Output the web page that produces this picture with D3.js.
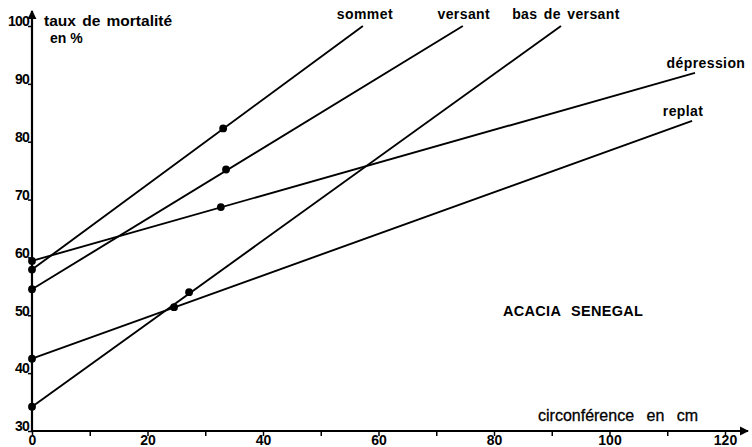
<!DOCTYPE html>
<html>
<head>
<meta charset="utf-8">
<script src="https://cdn.jsdelivr.net/npm/d3@7"></script>
<style>
  html, body { margin: 0; padding: 0; background: #fff; }
  svg { display: block; }
  text { font-family: "Liberation Sans", Arial, Helvetica, sans-serif; fill: #000; }
</style>
</head>
<body>
<svg id="chart" width="752" height="447"></svg>
<script>
// Mortality rate (%) against trunk circumference (cm) by topographic position
const seriesNames = ["sommet", "versant", "bas de versant", "dépression", "replat"];

// fitted lines: value at circumference 0 and where each line stops
const xStart = [0, 0, 0, 0, 0];
const yStart = [57.9, 54.5, 34.2, 59.4, 42.5];
const xEnd   = [57.3, 74.6, 91.6, 114.8, 114.3];
const yEnd   = [100, 100, 100, 91.9, 83.6];

// observed point along each line
const xObs = [33.1, 33.6, 27.2, 32.7, 24.6];
const yObs = [82.3, 75.2, 54.0, 68.7, 51.4];

const xTicks = [0, 10, 20, 30, 40, 50, 60, 70, 80, 90, 100, 110, 120];
const xTickLabels = ["0", "", "20", "", "40", "", "60", "", "80", "", "100", "", "120"];
const yTicks = [30, 40, 50, 60, 70, 80, 90, 100];
const yTickLabels = ["30", "40", "50", "60", "70", "80", "90", "100"];

const svg = d3.select("#chart");

const x = d3.scaleLinear().domain([0, 120]).range([32, 725]);
const y = d3.scaleLinear().domain([30, 100]).range([431, 26]);

// arrow head for the axes
const defs = svg.append("defs");
defs.append("marker")
  .attr("id", "arrow")
  .attr("viewBox", "0 0 10 10")
  .attr("refX", 9).attr("refY", 5)
  .attr("markerWidth", 4.2).attr("markerHeight", 4.2)
  .attr("markerUnits", "strokeWidth")
  .attr("orient", "auto")
  .append("path")
  .attr("d", "M0,0 L10,5 L0,10 Z")
  .attr("fill", "#000");

// x axis
const xAxis = d3.axisBottom(x)
  .tickValues(xTicks)
  .tickSize(5)
  .tickFormat((d, i) => xTickLabels[i]);
const gx = svg.append("g").attr("transform", `translate(0,${y(30)})`).call(xAxis);
gx.select(".domain").remove();
gx.selectAll(".tick line").attr("stroke", "#000").attr("stroke-width", 1.5);
gx.selectAll(".tick text")
  .attr("y", 14)
  .attr("dy", 0)
  .style("font-size", "14px")
  .style("font-weight", "bold");
svg.append("line")
  .attr("x1", x(0)).attr("x2", 748)
  .attr("y1", y(30)).attr("y2", y(30))
  .attr("stroke", "#000").attr("stroke-width", 2.2)
  .attr("marker-end", "url(#arrow)");

// y axis
const yAxis = d3.axisLeft(y)
  .tickValues(yTicks)
  .tickSize(4)
  .tickFormat((d, i) => yTickLabels[i]);
const gy = svg.append("g").attr("transform", `translate(${x(0)},0)`).call(yAxis);
gy.select(".domain").remove();
gy.selectAll(".tick line").attr("stroke", "#000").attr("stroke-width", 1.5);
gy.selectAll(".tick text")
  .attr("x", -3)
  .attr("dy", "-0.02em")
  .style("font-size", "14px")
  .style("font-weight", "bold")
  .style("letter-spacing", "-0.8px");
svg.append("line")
  .attr("x1", x(0)).attr("x2", x(0))
  .attr("y1", y(30)).attr("y2", 11)
  .attr("stroke", "#000").attr("stroke-width", 2.2)
  .attr("marker-end", "url(#arrow)");

// axis titles
svg.append("text")
  .attr("x", 44).attr("y", 26)
  .style("font-size", "15.5px").style("font-weight", "bold")
  .style("word-spacing", "2px")
  .text("taux de mortalité");
svg.append("text")
  .attr("x", 50).attr("y", 43)
  .style("font-size", "14px").style("font-weight", "bold")
  .text("en %");
svg.append("text")
  .attr("x", 538).attr("y", 421)
  .style("font-size", "16px")
  .style("word-spacing", "8px")
  .style("stroke", "#000").style("stroke-width", 0.3)
  .text("circonférence en cm");

// regression lines
const lines = seriesNames.map((name, i) => ({
  name,
  pts: [[xStart[i], yStart[i]], [xEnd[i], yEnd[i]]],
  obs: [[xStart[i], yStart[i]], [xObs[i], yObs[i]]]
}));

const lineGen = d3.line().x(d => x(d[0])).y(d => y(d[1]));

svg.append("g").selectAll("path")
  .data(lines)
  .join("path")
  .attr("d", d => lineGen(d.pts))
  .attr("fill", "none")
  .attr("stroke", "#000")
  .attr("stroke-width", 1.9);

svg.append("g").selectAll("circle")
  .data(lines.flatMap(d => d.obs))
  .join("circle")
  .attr("cx", d => x(d[0]))
  .attr("cy", d => y(d[1]))
  .attr("r", 3.9)
  .attr("fill", "#000");

// series labels near the end of each line
const labelDx = [2, 1, 5, 11, -9];
const labelDy = [-7, -7, -7, -5, -5];
svg.append("g").selectAll("text")
  .data(lines)
  .join("text")
  .attr("x", (d, i) => x(xEnd[i]) + labelDx[i])
  .attr("y", (d, i) => y(yEnd[i]) + labelDy[i])
  .attr("text-anchor", "middle")
  .style("font-size", "14px")
  .style("font-weight", "bold")
  .style("letter-spacing", "0.4px")
  .style("word-spacing", "2px")
  .text(d => d.name);

// species name
svg.append("text")
  .attr("x", 503).attr("y", 316)
  .style("font-size", "14.5px").style("font-weight", "bold")
  .style("letter-spacing", "0.3px")
  .style("word-spacing", "6px")
  .text("ACACIA SENEGAL");
</script>
</body>
</html>
